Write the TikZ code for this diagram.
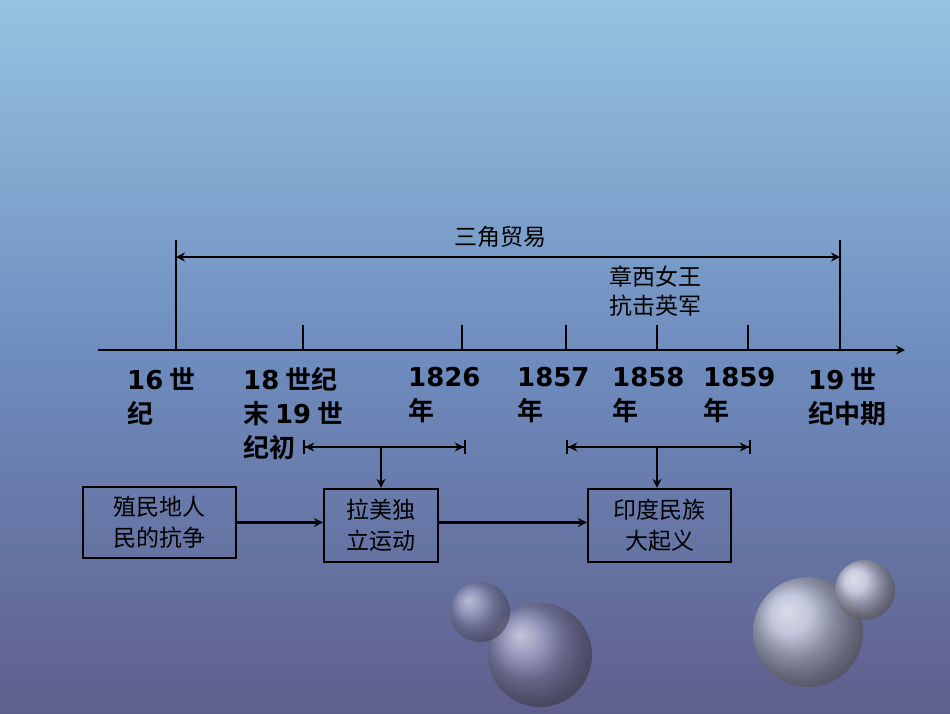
\documentclass[tikz,border=0pt]{standalone}
\usepackage{fontspec}
\setmainfont{Liberation Sans}
\newfontfamily\cjk{Noto Sans CJK SC}[BoldFont={Noto Sans CJK SC Bold}]
\newfontfamily\dv{DejaVu Sans}
\newcommand{\nm}[1]{{\dv\bfseries #1}}
\usetikzlibrary{arrows.meta}
\begin{document}
\begin{tikzpicture}[x=1pt,y=-1pt,
  ln/.style={line width=2.2pt,black},
  lab/.style={anchor=north west,align=left,font=\cjk\bfseries\fontsize{26}{34}\selectfont,inner sep=0pt},
  box/.style={draw,line width=2.2pt,font=\cjk\fontsize{23}{31}\selectfont,align=center,inner sep=0pt},
  arr/.style={ln,-{Stealth[length=9pt,width=9pt]}},
  br/.style={ln,{Bar[width=14pt]Stealth[length=9pt,width=9pt]}-{Stealth[length=9pt,width=9pt]Bar[width=14pt]}}]
\shade[top color={rgb,255:red,150;green,195;blue,225},bottom color={rgb,255:red,95;green,95;blue,140},middle color={rgb,255:red,110;green,140;blue,190}] (0,0) rectangle (950,713);
\shade[ball color={rgb,255:red,205;green,210;blue,230},opacity=0.8] (808,632) circle (55);
\shade[ball color={rgb,255:red,215;green,215;blue,235},opacity=0.8] (865,590) circle (30);
\shade[ball color={rgb,255:red,150;green,150;blue,190},opacity=0.7] (540,655) circle (52);
\shade[ball color={rgb,255:red,160;green,160;blue,200},opacity=0.6] (480,612) circle (30);
\useasboundingbox (0,0) rectangle (950,713);
% timeline
\coordinate (tl) at (98,350); \coordinate (tr) at (905,350);
\draw[arr] (tl) -- (tr);
\coordinate (a) at (176,350); \coordinate (a2) at (176,240);
\coordinate (g) at (840,350); \coordinate (g2) at (840,240);
\draw[ln] (a) -- (a2); \draw[ln] (g) -- (g2);
\foreach \x in {303,462,566,657,748} \draw[ln] (\x,350) -- (\x,325);
\coordinate (ta) at (176,257); \coordinate (tg) at (840,257);
\draw[ln,{Stealth[length=9pt,width=9pt]}-{Stealth[length=9pt,width=9pt]}] (ta) -- (tg);
\node[font=\cjk\fontsize{23}{29}\selectfont] (sj) at (500,237) {三角贸易};
\node[font=\cjk\fontsize{23}{29}\selectfont,align=center] (zx) at (655,291) {章西女王\\抗击英军};
% labels
\node[lab] (l1) at (127,367) {\nm{16} 世\\纪};
\node[lab] (l2) at (243,367) {\nm{18} 世纪\\末 \nm{19} 世\\纪初};
\node[lab] (l3) at (408,367) {\nm{1826}\\年};
\node[lab] (l4) at (517,367) {\nm{1857}\\年};
\node[lab] (l5) at (612,367) {\nm{1858}\\年};
\node[lab] (l6) at (703,367) {\nm{1859}\\年};
\node[lab] (l7) at (808,367) {\nm{19} 世\\纪中期};
% boxes
\node[box,minimum width=153pt,minimum height=71pt] (b1) at (159.5,522.5) {殖民地人\\民的抗争};
\node[box,minimum width=114pt,minimum height=73pt] (b2) at (381,525.5) {拉美独\\立运动};
\node[box,minimum width=143pt,minimum height=73pt] (b3) at (659.5,525.5) {印度民族\\大起义};
% brackets
\coordinate (p1) at (303,447); \coordinate (p2) at (466,447);
\coordinate (q1) at (566,447); \coordinate (q2) at (751,447);
\draw[br] (p1) -- (p2); \draw[br] (q1) -- (q2);
\coordinate (m1) at (381,447); \coordinate (m2) at (657,447);
\draw[arr] (m1) -- (b2.north);
\draw[arr] (m2) -- (m2 |- b3.north);
\draw[arr] (b1.east) -- (b2.west |- b1.east);
\draw[arr] (b2.east |- b1.east) -- (b3.west |- b1.east);
\end{tikzpicture}
\end{document}
